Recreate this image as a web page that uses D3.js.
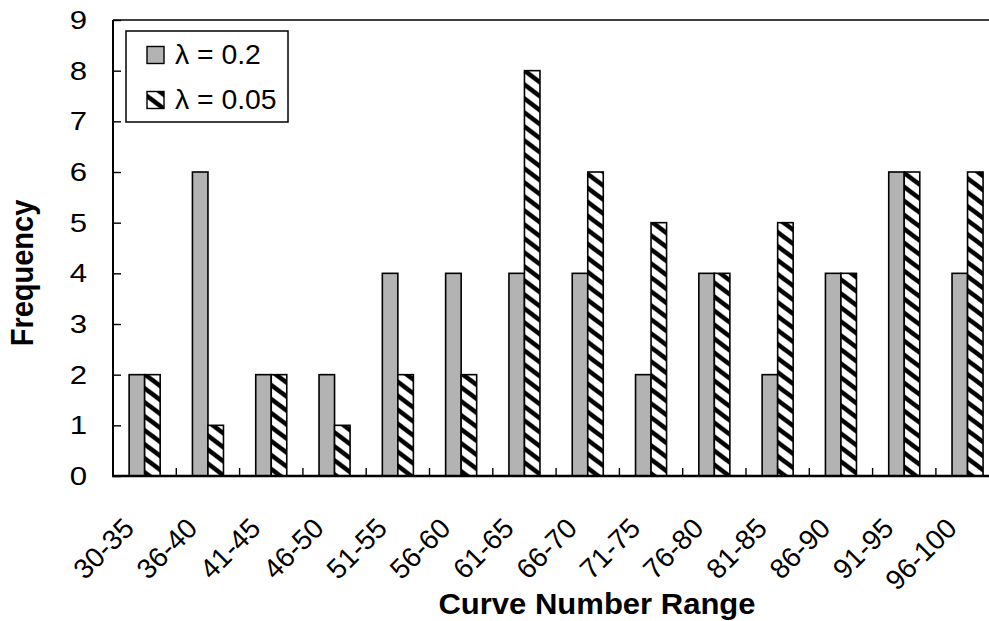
<!DOCTYPE html>
<html><head><meta charset="utf-8">
<script src="https://cdn.jsdelivr.net/npm/d3@7"></script>
<style>body{margin:0;background:#fff}svg{display:block}</style>
</head><body><svg id="c" width="989" height="621"></svg>
<script>
const categories = ["30-35","36-40","41-45","46-50","51-55","56-60","61-65","66-70","71-75","76-80","81-85","86-90","91-95","96-100"];
const seriesNames = ["λ = 0.2","λ = 0.05"];
const lambda02  = [2,6,2,2,4,4,4,4,2,4,2,4,6,4];
const lambda005 = [2,1,2,1,2,2,8,6,5,4,5,4,6,6];
const yTickValues = [0,1,2,3,4,5,6,7,8,9];
const xTitle = "Curve Number Range";
const yTitle = "Frequency";

(function(){
const FONT = "Arial, 'Liberation Sans', Helvetica, sans-serif";
const svg = d3.select("#c");
const plotLeft = 113, plotTop = 20, plotBottom = 476, step = 63.3, rightEdge = 989;

const x = d3.scaleBand().domain(categories).range([plotLeft, plotLeft + step * categories.length]).padding(0);
const xs = d3.scaleBand().domain(seriesNames).range([0, x.bandwidth()]).paddingInner(0).paddingOuter(1.04);
const y = d3.scaleLinear().domain([0, 9]).range([plotBottom, plotTop]);

// pattern
const defs = svg.append("defs");
const pw = 18.7, ph = 14;
const pat = defs.append("pattern").attr("id","hatch").attr("patternUnits","userSpaceOnUse")
  .attr("width", pw).attr("height", ph);
pat.append("rect").attr("width", pw).attr("height", ph).attr("fill", "#fff");
pat.append("path")
  .attr("d", `M${-pw},${-ph}L${2*pw},${2*ph}M${-pw},0L${pw},${2*ph}M0,${-ph}L${2*pw},${ph}`)
  .attr("stroke", "#000").attr("stroke-width", 4.6).attr("fill", "none");

const fills = ["#b3b3b3", "url(#hatch)"];
const data = categories.map((c, i) => ({c, vals: [lambda02[i], lambda005[i]]}));

// bars
const g = svg.append("g");
data.forEach(d => {
  d.vals.forEach((v, j) => {
    g.append("rect")
      .attr("x", x(d.c) + xs(seriesNames[j]))
      .attr("y", y(v))
      .attr("width", xs.bandwidth())
      .attr("height", y(0) - y(v))
      .attr("fill", fills[j])
      .attr("stroke", "#000").attr("stroke-width", 1.6);
  });
});

// y axis ticks (inward)
const yAxis = d3.axisLeft(y).tickValues(yTickValues).tickSize(-8).tickFormat("");
const ya = svg.append("g").attr("transform", `translate(${plotLeft},0)`).call(yAxis);
ya.select(".domain").remove();
ya.selectAll(".tick line").attr("stroke", "#000").attr("stroke-width", 1.4);

// category boundary ticks (inward)
const boundaries = categories.slice(1).map(c => x(c));
svg.append("g").selectAll("line").data(boundaries).join("line")
  .attr("x1", d => d).attr("x2", d => d).attr("y1", plotBottom).attr("y2", plotBottom - 8)
  .attr("stroke", "#000").attr("stroke-width", 1.4);

// frame lines
svg.append("line").attr("x1", plotLeft).attr("x2", rightEdge).attr("y1", plotTop).attr("y2", plotTop)
  .attr("stroke", "#000").attr("stroke-width", 1.6);
svg.append("line").attr("x1", plotLeft).attr("x2", plotLeft).attr("y1", plotTop).attr("y2", plotBottom)
  .attr("stroke", "#000").attr("stroke-width", 2);
svg.append("line").attr("x1", plotLeft - 1).attr("x2", rightEdge).attr("y1", plotBottom).attr("y2", plotBottom)
  .attr("stroke", "#000").attr("stroke-width", 2.4);

// y tick labels
svg.append("g").selectAll("text").data(yTickValues).join("text")
  .attr("transform", d => `translate(87,${y(d)}) scale(1.2,1)`)
  .attr("text-anchor", "end").attr("dominant-baseline", "central")
  .attr("font-family", FONT).attr("font-size", 26).attr("fill", "#000")
  .text(d => d);

// x tick labels
svg.append("g").selectAll("text").data(categories).join("text")
  .attr("transform", d => `translate(${x(d) + x.bandwidth()/2 - 9},530) rotate(-45)`)
  .attr("text-anchor", "end")
  .attr("font-family", FONT).attr("font-size", 28).attr("fill", "#000")
  .text(d => d);

// axis titles
svg.append("text").attr("transform", `translate(597,614) scale(1.07,1)`)
  .attr("text-anchor", "middle").attr("font-family", FONT).attr("font-weight", "bold")
  .attr("font-size", 29).text(xTitle);
svg.append("text").attr("transform", `translate(33,273) scale(1.1,1) rotate(-90)`)
  .attr("text-anchor", "middle").attr("font-family", FONT).attr("font-weight", "bold")
  .attr("font-size", 29).text(yTitle);

// legend
const lg = svg.append("g");
lg.append("rect").attr("x", 126).attr("y", 31).attr("width", 162).attr("height", 91)
  .attr("fill", "#fff").attr("stroke", "#000").attr("stroke-width", 1.5);
const legendY = [55, 100];
seriesNames.forEach((s, j) => {
  lg.append("rect").attr("x", 147).attr("y", legendY[j] - 8.5).attr("width", 17).attr("height", 17)
    .attr("fill", fills[j]).attr("stroke", "#000").attr("stroke-width", 1.4);
  lg.append("text").attr("transform", `translate(175,${legendY[j]}) scale(1.05,1)`)
    .attr("dominant-baseline", "central").attr("font-family", FONT).attr("font-size", 27)
    .text(s);
});
})();
</script></body></html>
